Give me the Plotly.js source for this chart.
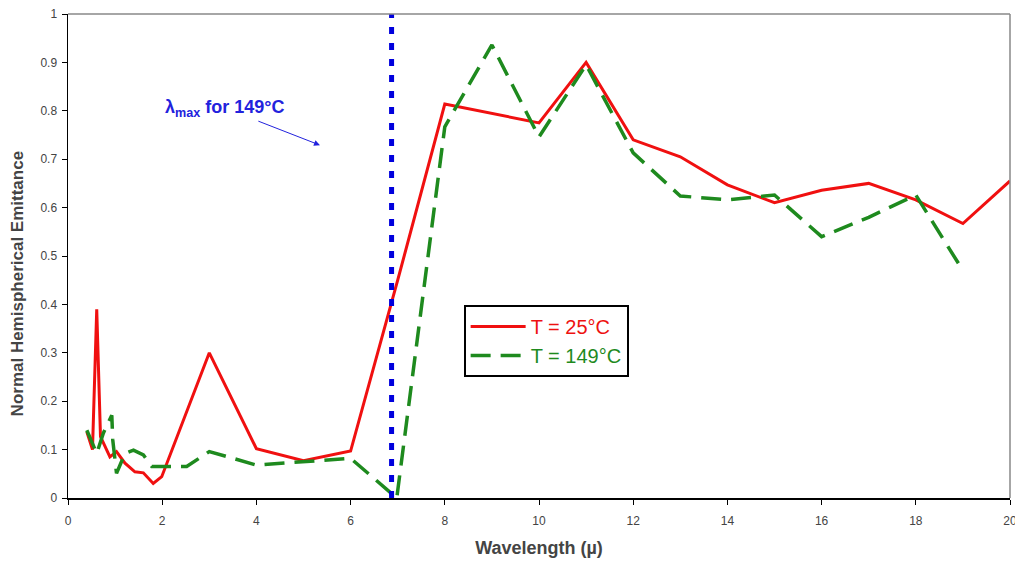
<!DOCTYPE html>
<html><head><meta charset="utf-8">
<script src="https://cdn.plot.ly/plotly-3.0.1.min.js"></script>
<style>body{margin:0;background:#fff}#c{width:1015px;height:562px}</style>
</head><body><div id="c"></div>
<script>
const red_x = [0.4,0.52,0.61,0.69,0.89,1.03,1.21,1.42,1.6,1.81,1.99,3,4,5,6,7,8,10,11,12,13,14,15,16,17,18,19,20];
const red_y = [0.137,0.10,0.39,0.127,0.085,0.096,0.072,0.054,0.052,0.03,0.044,0.30,0.102,0.077,0.097,0.45,0.814,0.775,0.9,0.74,0.705,0.647,0.61,0.636,0.65,0.616,0.567,0.655];
const green_x = [0.4,0.61,0.75,0.93,0.95,1.03,1.21,1.39,1.6,1.78,2.52,3,4,5,6,6.98,8,9,10,11,12,13,14,15,16,17,18,19];
const green_y = [0.14,0.092,0.134,0.171,0.12,0.051,0.092,0.099,0.089,0.065,0.065,0.096,0.068,0.075,0.082,0,0.767,0.936,0.746,0.895,0.713,0.624,0.616,0.626,0.54,0.58,0.626,0.47];
const lambdaMax = 6.87;
const lambdaLine_y = [0, 1];
const xTicks = [0,2,4,6,8,10,12,14,16,18,20];
const yTicks = [0,0.1,0.2,0.3,0.4,0.5,0.6,0.7,0.8,0.9,1];
const yTickText = ['0','0.1','0.2','0.3','0.4','0.5','0.6','0.7','0.8','0.9','1'];

const traces = [
  {x: red_x, y: red_y, mode: 'lines', name: '<span style="color:#ee1111">T = 25°C</span>',
   line: {color: '#f01010', width: 3}},
  {x: green_x, y: green_y, mode: 'lines', name: '<span style="color:#1e8a1e">T = 149°C</span>',
   line: {color: '#1e8a1e', width: 3.5, dash: '20px,10px'}},
  {x: [lambdaMax, lambdaMax], y: lambdaLine_y, mode: 'lines', showlegend: false,
   line: {color: '#0000dd', width: 5, dash: '7px,9px'}}
];

const layout = {
  width: 1015, height: 562,
  margin: {l: 68, r: 5, t: 14, b: 64},
  paper_bgcolor: '#fff', plot_bgcolor: '#fff',
  font: {family: 'Liberation Sans, Arial, sans-serif', color: '#333'},
  xaxis: {range: [0, 20], tickvals: xTicks, ticktext: xTicks.map(String),
    showgrid: false, zeroline: false, showline: true, linecolor: '#000', linewidth: 1.5,
    ticks: 'outside', ticklen: 5, tickcolor: '#000', ticklabelstandoff: 6, ticklabeloverflow: 'allow',
    tickfont: {size: 12, color: '#444'},
    title: {text: '<b>Wavelength (µ)</b>', font: {size: 18, color: '#444'}, standoff: 14}},
  yaxis: {range: [0, 1], tickvals: yTicks, ticktext: yTickText,
    showgrid: false, zeroline: false, showline: true, linecolor: '#000', linewidth: 1.5,
    ticks: 'outside', ticklen: 5, tickcolor: '#000', ticklabelstandoff: 2,
    tickfont: {size: 12, color: '#444'}},
  showlegend: true,
  legend: {x: 0.42, y: 0.399, xanchor: 'left', yanchor: 'top',
    bgcolor: '#fff', bordercolor: '#000', borderwidth: 2, itemwidth: 55,
    font: {size: 20, family: 'Liberation Sans, Arial, sans-serif'}},
  shapes: [
    {type: 'line', xref: 'paper', yref: 'paper', x0: 0, x1: 1, y0: 1, y1: 1, line: {color: '#888', width: 1.5}},
    {type: 'line', xref: 'paper', yref: 'paper', x0: 1, x1: 1, y0: 0, y1: 1, line: {color: '#888', width: 1.5}}
  ],
  annotations: [
    {x: 5.35, y: 0.729, xref: 'x', yref: 'y', showarrow: true, ax: -95, ay: -37,
     text: '<b>λ<sub>max</sub> for 149°C</b>', font: {size: 18, color: '#2222dd'},
     arrowhead: 2, arrowsize: 1.2, arrowwidth: 1, arrowcolor: '#2222dd', standoff: 0},
    {x: -0.066, y: 0.442, xref: 'paper', yref: 'paper', showarrow: false, textangle: -90,
     text: '<b>Normal Hemispherical Emittance</b>', font: {size: 17, color: '#444'}}
  ]
};
Plotly.newPlot('c', traces, layout, {displayModeBar: false, staticPlot: true});
</script></body></html>
